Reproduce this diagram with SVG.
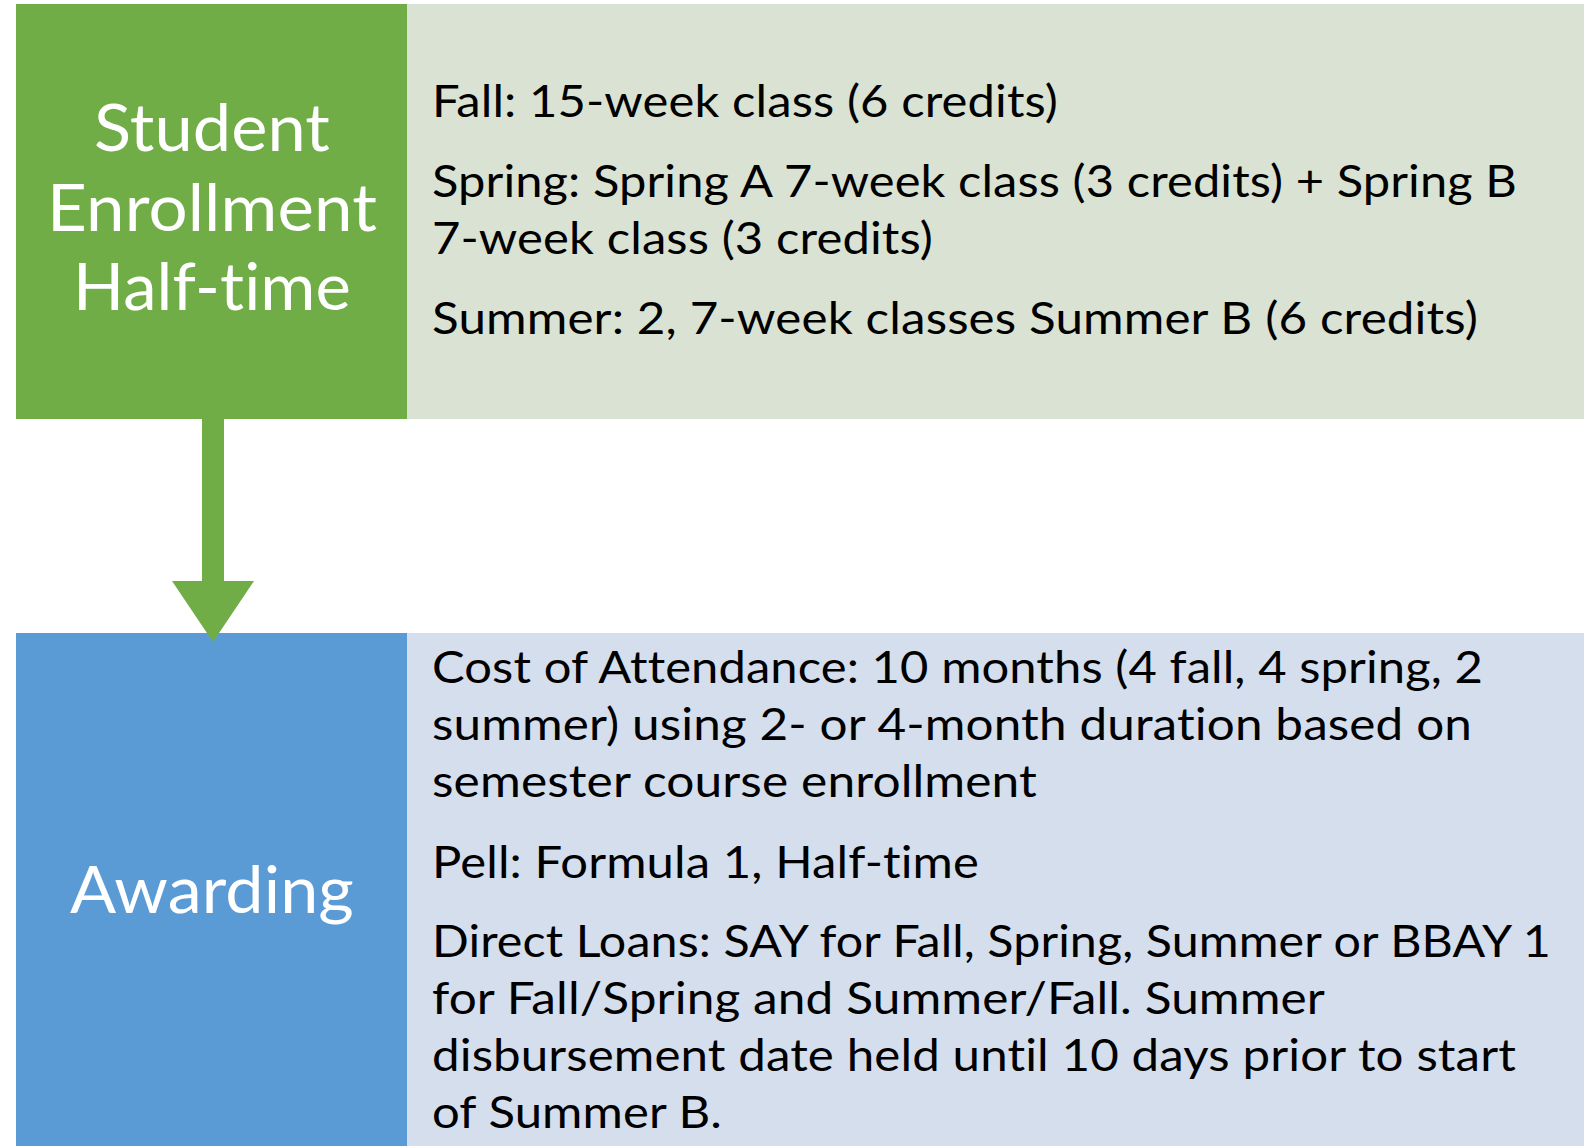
<svg xmlns="http://www.w3.org/2000/svg" width="1588" height="1146" viewBox="0 0 1588 1146">
  <style>
    text { font-variant-ligatures: none; font-feature-settings: "liga" 0, "clig" 0, "dlig" 0, "calt" 0; letter-spacing: 0.1px; }
    .body { font-family: Lato, "Liberation Sans", sans-serif; font-size: 44px; fill: #000000; }
    .label { font-family: Lato, "Liberation Sans", sans-serif; font-size: 66px; fill: #FFFFFF; text-anchor: middle; }
  </style>
  <rect width="1588" height="1146" fill="#FFFFFF"/>
  <g id="enrollment-details">
    <rect x="407" y="4" width="1177" height="415" fill="#DAE3D3"/>
    <text class="body" x="432" y="117" textLength="626" lengthAdjust="spacingAndGlyphs">Fall: 15-week class (6 credits)</text>
    <text class="body" x="432" y="197" textLength="1085" lengthAdjust="spacingAndGlyphs">Spring: Spring A 7-week class (3 credits) + Spring B</text>
    <text class="body" x="432" y="254" textLength="501" lengthAdjust="spacingAndGlyphs">7-week class (3 credits)</text>
    <text class="body" x="432" y="334" textLength="1046" lengthAdjust="spacingAndGlyphs">Summer: 2, 7-week classes Summer B (6 credits)</text>
  </g>
  <g id="student-enrollment">
    <rect x="16" y="4" width="391" height="415" fill="#70AD47"/>
    <text class="label" x="212" y="151" textLength="236" lengthAdjust="spacingAndGlyphs">Student</text>
    <text class="label" x="212" y="231" textLength="330" lengthAdjust="spacingAndGlyphs">Enrollment</text>
    <text class="label" x="212" y="310" textLength="278" lengthAdjust="spacingAndGlyphs">Half-time</text>
  </g>
  <g id="awarding-details">
    <rect x="407" y="633" width="1177" height="513" fill="#D4DEED"/>
    <text class="body" x="432" y="683" textLength="1051" lengthAdjust="spacingAndGlyphs">Cost of Attendance: 10 months (4 fall, 4 spring, 2</text>
    <text class="body" x="432" y="740" textLength="1040" lengthAdjust="spacingAndGlyphs">summer) using 2- or 4-month duration based on</text>
    <text class="body" x="432" y="797" textLength="605" lengthAdjust="spacingAndGlyphs">semester course enrollment</text>
    <text class="body" x="432" y="878" textLength="547" lengthAdjust="spacingAndGlyphs">Pell: Formula 1, Half-time</text>
    <text class="body" x="432" y="957" textLength="1119" lengthAdjust="spacingAndGlyphs">Direct Loans: SAY for Fall, Spring, Summer or BBAY 1</text>
    <text class="body" x="432" y="1014" textLength="893" lengthAdjust="spacingAndGlyphs">for Fall/Spring and Summer/Fall. Summer</text>
    <text class="body" x="432" y="1071" textLength="1084" lengthAdjust="spacingAndGlyphs">disbursement date held until 10 days prior to start</text>
    <text class="body" x="432" y="1128" textLength="290" lengthAdjust="spacingAndGlyphs">of Summer B.</text>
  </g>
  <g id="awarding">
    <rect x="16" y="633" width="391" height="513" fill="#5B9BD5"/>
    <text class="label" x="212" y="913" textLength="284" lengthAdjust="spacingAndGlyphs">Awarding</text>
  </g>
  <g id="connectors">
    <polygon points="202,419 224,419 224,581 254,581 213,642 172,581 202,581" fill="#70AD47"/>
  </g>
</svg>
